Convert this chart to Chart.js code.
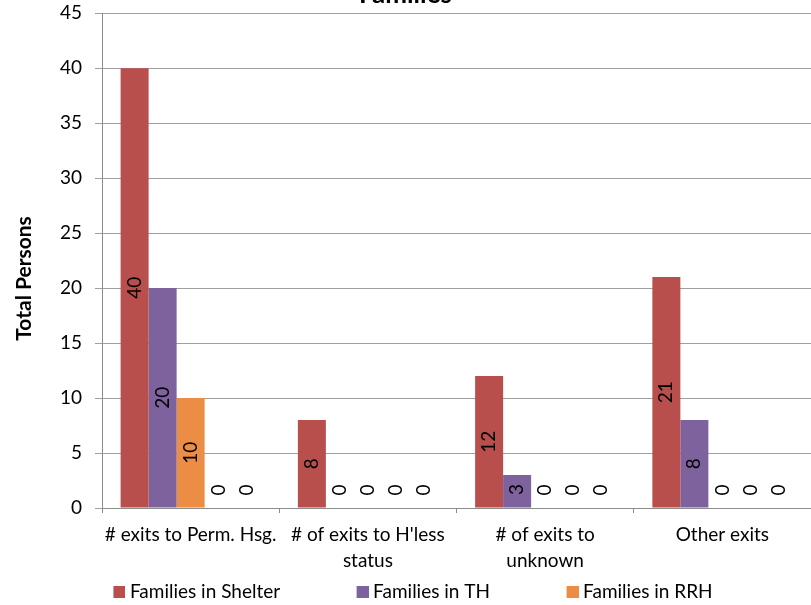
<!DOCTYPE html>
<html>
<head>
<meta charset="utf-8">
<script src="https://cdn.jsdelivr.net/npm/chart.js@4.4.0/dist/chart.umd.min.js"></script>
<style>
  html, body { margin: 0; padding: 0; background: #fff; overflow: hidden; }
  #wrap { position: relative; width: 811px; height: 605px; overflow: hidden; }
  /* the title sits partly above the window, like the original */
  #familiesChart { position: absolute; left: 0; top: -30px; }
</style>
</head>
<body>
<div id="wrap"><canvas id="familiesChart" width="811" height="641"></canvas></div>
<script>
// Exits by destination - Families
const categories = [
  '# exits to Perm. Hsg.',
  ["# of exits to H'less", 'status'],
  ['# of exits to', 'unknown'],
  'Other exits'
];
const seriesNames = ['Families in Shelter', 'Families in TH', 'Families in RRH', 'Families in PSH', 'Families in Other'];
const shelter = [40, 8, 12, 21];
const th = [20, 0, 3, 8];
const rrh = [10, 0, 0, 0];
const psh = [0, 0, 0, 0];
const otherPrograms = [0, 0, 0, 0];
const seriesColors = ['#B84F4C', '#7D629D', '#EB8D44', '#4F81BD', '#9BBB59'];
const yMax = 45;
const yStep = 5;

const FONT = 'Lato';
const LEGEND_GAP = ' '.repeat(11);   // widens the space after a legend entry
const SWATCH_W = 22;

// legend swatch: blank area on the left, square on the right
function swatch(color) {
  const c = document.createElement('canvas');
  c.width = SWATCH_W + 10;
  c.height = 12;
  const g = c.getContext('2d');
  g.fillStyle = color;
  g.fillRect(c.width - 12, 0, 12, 12);
  return c;
}

// value labels, rotated, in the middle of each bar
const barLabels = {
  id: 'barLabels',
  afterDatasetsDraw(chart) {
    const ctx = chart.ctx;
    ctx.save();
    ctx.font = '19px ' + FONT;
    ctx.fillStyle = '#000';
    ctx.textAlign = 'center';
    ctx.textBaseline = 'middle';
    chart.data.datasets.forEach((ds, di) => {
      chart.getDatasetMeta(di).data.forEach((bar, i) => {
        const y = Math.min((bar.y + bar.base) / 2, bar.base - 18);
        ctx.save();
        ctx.translate(bar.x, y);
        ctx.rotate(-Math.PI / 2);
        ctx.fillText(String(ds.data[i]), 0, 0);
        ctx.restore();
      });
    });
    ctx.restore();
  }
};

const allSeries = [shelter, th, rrh, psh, otherPrograms];

new Chart(document.getElementById('familiesChart'), {
  type: 'bar',
  data: {
    labels: categories,
    datasets: allSeries.map((values, i) => ({
      label: seriesNames[i],
      data: values,
      backgroundColor: seriesColors[i],
      borderWidth: 0,
      categoryPercentage: 0.79,
      barPercentage: 1
    }))
  },
  options: {
    responsive: false,
    animation: false,
    devicePixelRatio: 1,
    layout: { padding: 0 },
    plugins: {
      title: {
        display: true,
        text: 'Families',
        color: '#000',
        font: { family: FONT, size: 26, weight: 'bold' },
        padding: { top: 9, bottom: 3 }
      },
      legend: {
        position: 'bottom',
        labels: {
          generateLabels: chart => Chart.defaults.plugins.legend.labels.generateLabels(chart).map(item => ({
            ...item,
            text: item.datasetIndex < 2 ? item.text + LEGEND_GAP : item.text,
            pointStyle: swatch(seriesColors[item.datasetIndex])
          })),
          filter: item => item.datasetIndex < 3,
          usePointStyle: true,
          pointStyleWidth: SWATCH_W,
          padding: 8,
          color: '#000',
          font: { family: FONT, size: 19 }
        }
      },
      tooltip: { enabled: false }
    },
    scales: {
      x: {
        afterFit: s => { s.height = 66; },
        grid: { offset: true, drawOnChartArea: false, drawTicks: true, tickLength: 5, color: '#8c8c8c' },
        border: { color: '#8c8c8c' },
        ticks: {
          autoSkip: false,
          maxRotation: 0,
          padding: 9,
          color: '#000',
          font: { family: FONT, size: 19, lineHeight: '26px' }
        }
      },
      y: {
        min: 0,
        max: yMax,
        afterFit: s => { s.width = 102; },
        grid: { color: '#a0a0a0', tickLength: 7 },
        border: { color: '#8c8c8c' },
        ticks: {
          stepSize: yStep,
          padding: 13,
          color: '#000',
          font: { family: FONT, size: 19 }
        },
        title: {
          display: true,
          text: 'Total Persons' + ' '.repeat(7),
          color: '#000',
          font: { family: FONT, size: 21, weight: 'bold' },
          padding: { top: 12, bottom: 0 }
        }
      }
    }
  },
  plugins: [barLabels]
});
</script>
</body>
</html>
